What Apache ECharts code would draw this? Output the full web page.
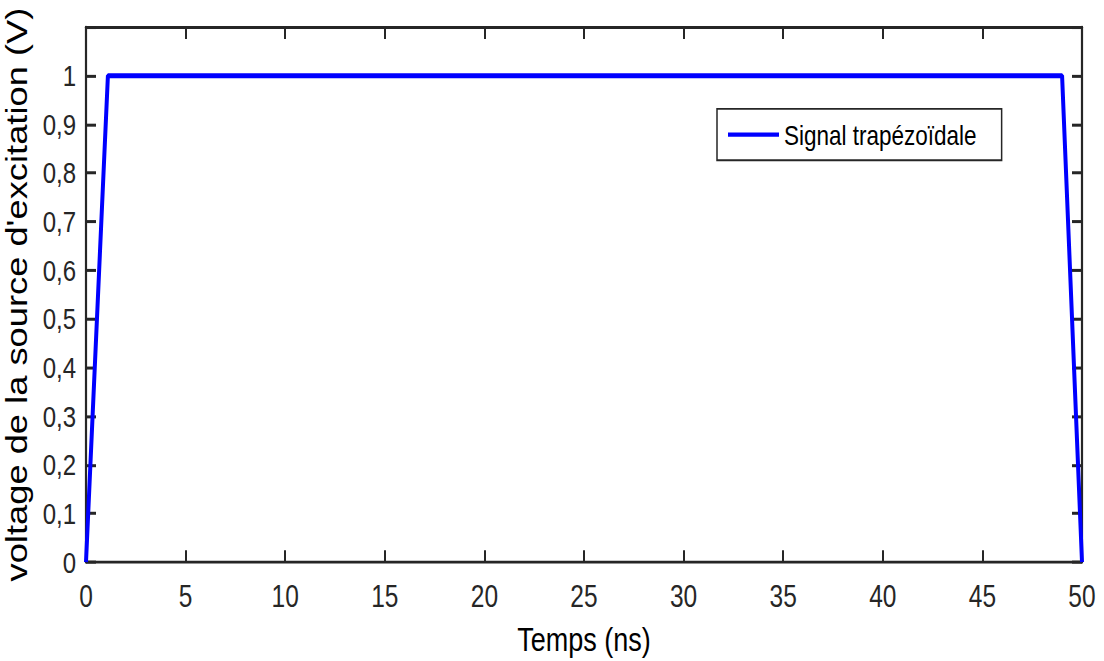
<!DOCTYPE html>
<html>
<head>
<meta charset="utf-8">
<script src="https://cdn.jsdelivr.net/npm/echarts@6/dist/echarts.min.js"></script>
<style>
  html, body { margin: 0; padding: 0; background: #ffffff; overflow: hidden; }
  #frame { width: 1104px; height: 661px; overflow: hidden; }
  /* the figure is drawn at its native aspect and stretched vertically to fill the frame */
  #chart { width: 1104px; height: 528px; transform-origin: 0 0; transform: scale(1, 1.25189); }
</style>
</head>
<body>
<div id="frame"><div id="chart"></div></div>
<script>
// Trapezoidal excitation pulse: corner points (time in ns, voltage in V)
const timeNs = [0, 1.1, 49, 50];
const voltage = [0, 1, 1, 0];
const seriesName = 'Signal trapézoïdale';
const xTitle = 'Temps (ns)';
const yTitle = "voltage de la source d'excitation (V)";

const font = "'Liberation Sans', Arial, Helvetica, sans-serif";
const ink = '#262626';

const points = timeNs.map((t, i) => [t, voltage[i]]);

const fmtY = v => (v > 1.05 ? '' : String(+v.toFixed(1)).replace('.', ','));

const chart = echarts.init(document.getElementById('chart'), null, { renderer: 'svg' });
chart.setOption({
  backgroundColor: '#ffffff',
  animation: false,
  grid: { left: 86, right: 22, top: 21.6, bottom: 79, containLabel: false, outerBoundsMode: 'none' },
  legend: {
    show: true,
    left: 717,
    top: 87,
    orient: 'horizontal',
    backgroundColor: '#ffffff',
    borderColor: ink,
    borderWidth: 1.5,
    borderRadius: 0,
    padding: [9, 25, 9, 11],
    itemWidth: 51,
    itemHeight: 3.4,
    itemGap: 0,
    icon: 'rect',
    textStyle: { fontFamily: font, fontSize: 22.5, color: '#000000', lineHeight: 23 },
    data: [seriesName]
  },
  xAxis: [
    {
      type: 'value', min: 0, max: 50, interval: 5, position: 'bottom',
      name: xTitle, nameLocation: 'middle', nameGap: 48,
      nameTextStyle: { fontFamily: font, fontSize: 27, color: '#000000' },
      axisLine: { show: true, onZero: false, lineStyle: { color: ink, width: 2.3 } },
      axisTick: { show: true, inside: true, length: 9.5, lineStyle: { color: ink, width: 2 } },
      axisLabel: { fontFamily: font, fontSize: 24.5, color: ink, margin: 15 },
      splitLine: { show: false }
    },
    {
      type: 'value', min: 0, max: 50, interval: 5, position: 'top',
      axisLine: { show: true, onZero: false, lineStyle: { color: ink, width: 2.3 } },
      axisTick: { show: true, inside: true, length: 9.5, lineStyle: { color: ink, width: 2 } },
      axisLabel: { show: false },
      splitLine: { show: false }
    }
  ],
  yAxis: [
    {
      type: 'value', min: 0, max: 1.1, interval: 0.1, position: 'left',
      name: yTitle, nameLocation: 'middle', nameGap: 49, nameRotate: 90,
      nameTextStyle: { fontFamily: font, fontSize: 29, color: '#000000' },
      axisLine: { show: true, onZero: false, lineStyle: { color: ink, width: 2.2 } },
      axisTick: { show: true, inside: true, length: 10, lineStyle: { color: ink, width: 2.4 } },
      axisLabel: { fontFamily: font, fontSize: 24, color: ink, margin: 10, formatter: fmtY },
      splitLine: { show: false }
    },
    {
      type: 'value', min: 0, max: 1.1, interval: 0.1, position: 'right',
      axisLine: { show: true, onZero: false, lineStyle: { color: ink, width: 2.2 } },
      axisTick: { show: true, inside: true, length: 10, lineStyle: { color: ink, width: 2.4 } },
      axisLabel: { show: false },
      splitLine: { show: false }
    }
  ],
  series: [
    {
      name: seriesName,
      type: 'line',
      xAxisIndex: 0,
      yAxisIndex: 0,
      data: points,
      showSymbol: false,
      symbol: 'none',
      color: '#0000ff',
      lineStyle: { color: '#0000ff', width: 4 },
      z: 3
    }
  ]
});
</script>
</body>
</html>
